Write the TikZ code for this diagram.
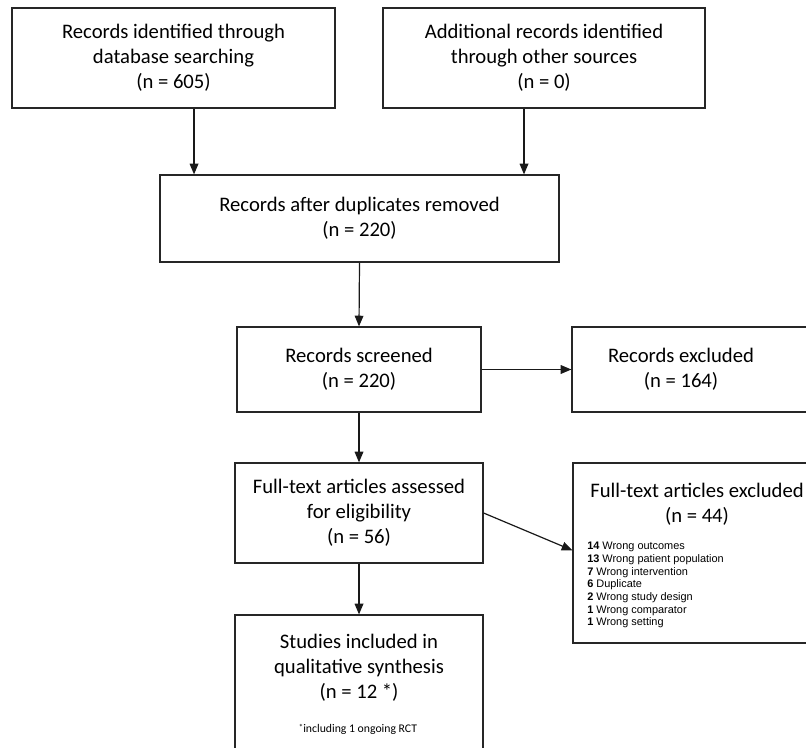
\documentclass[tikz,border=0pt]{standalone}
\usepackage{fontspec}
\setmainfont{Carlito}
\newfontfamily\arialfont{Liberation Sans}
\usetikzlibrary{arrows.meta}
\begin{document}
\begin{tikzpicture}[x=0.75pt,y=-0.75pt,
  box/.style={draw=black!85, line width=0.9pt, align=center, inner sep=0pt,
    font=\fontsize{15.5}{18.75}\selectfont},
  big/.style={font=\fontsize{15.5}{18.75}\selectfont, align=center, inner sep=0pt},
  small/.style={font=\arialfont\fontsize{8.2}{9.5}\selectfont, align=left, inner sep=0pt},
  note/.style={font=\fontsize{8.8}{10}\selectfont, inner sep=0pt},
  arr/.style={draw=black!90, line width=0.9pt, -{Triangle[length=8pt,width=6.5pt]}}]
\clip (0,0) rectangle (806,748);
\fill[white] (0,0) rectangle (806,748);
% boxes
\node[box, minimum width=323*0.75pt, minimum height=100*0.75pt] (A) at (173.5,58)
  {Records identified through\\database searching\\(n = 605)};
\node[box, minimum width=322*0.75pt, minimum height=100*0.75pt] (B) at (544,58)
  {Additional records identified\\through other sources\\(n = 0)};
\node[box, minimum width=399*0.75pt, minimum height=87*0.75pt] (C) at (359.5,218.5)
  {Records after duplicates removed\\(n = 220)};
\node[box, minimum width=244*0.75pt, minimum height=85*0.75pt] (D) at (359,369.5)
  {Records screened\\(n = 220)};
\node[box, minimum width=258*0.75pt, minimum height=85*0.75pt] (E) at (701,369.5) {};
\node[big] (Et) at (681,369) {Records excluded\\(n = 164)};
\node[box, minimum width=248*0.75pt, minimum height=100*0.75pt] (F) at (359,513)
  {Full-text articles assessed\\for eligibility\\(n = 56)};
\node[box, minimum width=257*0.75pt, minimum height=180*0.75pt] (G) at (701.5,553) {};
\node[big] (Gt) at (697,504.5) {Full-text articles excluded\\(n = 44)};
\node[small, anchor=north west] (Gl) at (587,542)
  {\textbf{14} Wrong outcomes\\
   \textbf{13} Wrong patient population\\
   \textbf{7} Wrong intervention\\
   \textbf{6} Duplicate\\
   \textbf{2} Wrong study design\\
   \textbf{1} Wrong comparator\\
   \textbf{1} Wrong setting};
\node[box, minimum width=248*0.75pt, minimum height=170*0.75pt] (H) at (359,700) {};
\node[big] (Ht) at (359,668) {Studies included in\\qualitative synthesis\\(n = 12 *)};
\node[note] (Hn) at (358,729) {\raisebox{0.35ex}{\fontsize{6.5}{7}\selectfont*}including 1 ongoing RCT};
% connectors
\draw[arr] ([xshift=15.4pt]A.south) -- ([xshift=15.4pt]A.south |- C.north);
\draw[arr] ([xshift=-15pt]B.south) -- ([xshift=-15pt]B.south |- C.north);
\draw[arr] (C.south) -- (D.north);
\draw[arr] (D.east) -- (E.west);
\draw[arr] (D.south) -- (F.north);
\draw[arr] (F.east) -- ([yshift=2pt]G.west);
\draw[arr] (F.south) -- (H.north);
\end{tikzpicture}
\end{document}
